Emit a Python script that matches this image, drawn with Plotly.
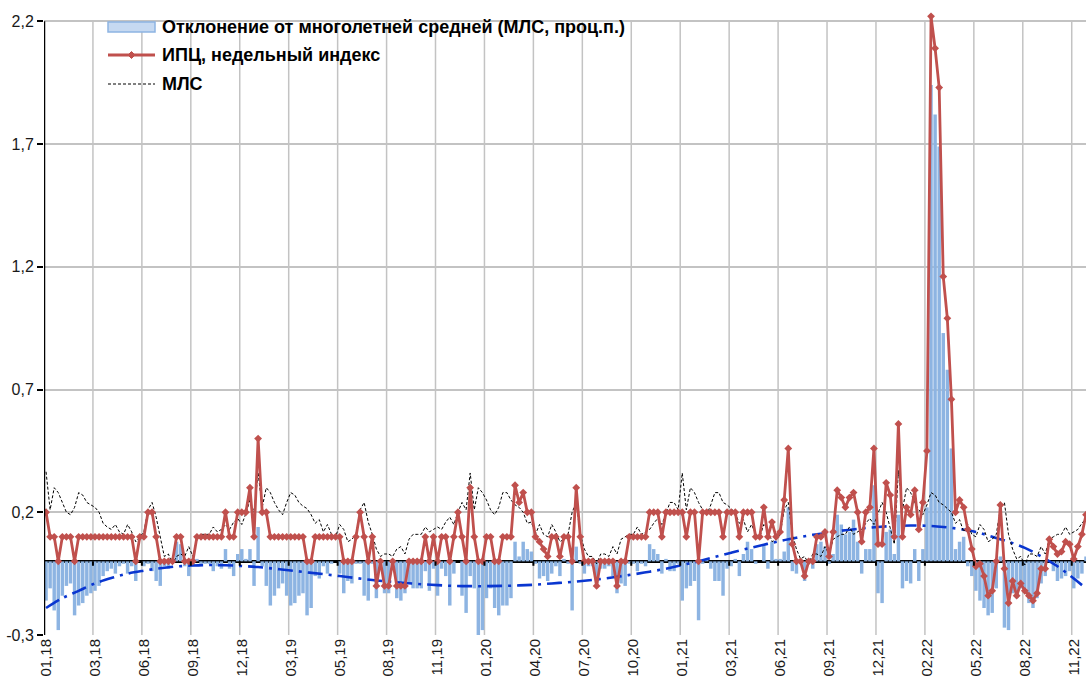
import plotly.graph_objects as go

# ---------------- data ----------------
tick_labels = ["01,18", "03,18", "06,18", "09,18", "12,18", "03,19", "05,19", "08,19",
               "11,19", "01,20", "04,20", "07,20", "10,20", "01,21", "03,21", "06,21",
               "09,21", "12,21", "02,22", "05,22", "08,22", "11,22"]
label_step = 12  # weeks between axis labels

# weekly CPI, %
cpi = [
    0.2, 0.1, 0.1, 0.0, 0.1, 0.1, 0.1, 0.0, 0.1, 0.1,
    0.1, 0.1, 0.1, 0.1, 0.1, 0.1, 0.1, 0.1, 0.1, 0.1,
    0.1, 0.1, 0.0, 0.1, 0.1, 0.2, 0.2, 0.1, 0.0, 0.0,
    0.0, 0.0, 0.1, 0.1, 0.0, 0.0, 0.0, 0.1, 0.1, 0.1,
    0.1, 0.1, 0.1, 0.1, 0.2, 0.1, 0.1, 0.2, 0.2, 0.2,
    0.3, 0.1, 0.5, 0.2, 0.2, 0.1, 0.1, 0.1, 0.1, 0.1,
    0.1, 0.1, 0.1, 0.1, 0.0, 0.0, 0.1, 0.1, 0.1, 0.1,
    0.1, 0.1, 0.1, 0.0, 0.0, 0.0, 0.1, 0.2, 0.1, 0.0,
    0.1, -0.1, 0.0, -0.1, -0.1, 0.0, -0.1, -0.1, -0.1, 0.0,
    0.0, 0.0, 0.0, 0.1, 0.0, 0.1, 0.0, 0.1, 0.1, 0.0,
    0.1, 0.2, 0.1, 0.0, 0.3, 0.1, 0.0, 0.0, 0.1, 0.1,
    0.0, 0.0, 0.1, 0.1, 0.1, 0.31, 0.24, 0.28, 0.2, 0.2,
    0.1, 0.08, 0.05, 0.02, 0.1, 0.1, 0.02, 0.1, 0.1, 0.0,
    0.3, 0.1, 0.0, 0.0, 0.0, -0.1, 0.0, 0.0, 0.0, 0.0,
    -0.1, 0.0, 0.0, 0.1, 0.1, 0.1, 0.1, 0.1, 0.2, 0.2,
    0.2, 0.1, 0.2, 0.2, 0.2, 0.2, 0.2, 0.1, 0.2, 0.2,
    0.0, 0.2, 0.2, 0.2, 0.2, 0.2, 0.1, 0.2, 0.2, 0.2,
    0.1, 0.2, 0.2, 0.2, 0.1, 0.1, 0.22, 0.1, 0.16, 0.1,
    0.12, 0.25, 0.46, 0.07, 0.0, 0.0, -0.06, 0.0, 0.0, 0.1,
    0.1, 0.12, 0.02, 0.12, 0.29, 0.26, 0.22, 0.26, 0.28, 0.2,
    0.08, 0.2, 0.22, 0.46, 0.07, 0.07, 0.32, 0.27, 0.1, 0.56,
    0.1, 0.22, 0.19, 0.29, 0.13, 0.24, 0.45, 2.22, 2.09, 1.93,
    1.16, 0.99, 0.66, 0.2, 0.25, 0.22, 0.13, 0.05, -0.02, -0.01,
    -0.06, -0.14, -0.12, 0.0, 0.23, -0.03, -0.17, -0.08, -0.14, -0.09,
    -0.12, -0.14, -0.16, -0.13, -0.03, -0.03, 0.09, 0.06, 0.03, 0.04,
    0.08, 0.07, 0.01, 0.06, 0.11, 0.19,
]

# long-term average (МЛС), %
mls = [
    0.365, 0.21, 0.30, 0.28, 0.24, 0.20, 0.19, 0.22, 0.28, 0.27,
    0.24, 0.23, 0.22, 0.20, 0.155, 0.14, 0.13, 0.15, 0.12, 0.11,
    0.15, 0.12, 0.08, 0.10, 0.12, 0.21, 0.24, 0.18, 0.10, 0.02,
    0.03, -0.01, 0.02, 0.03, 0.02, 0.06, 0.02, 0.09, 0.11, 0.11,
    0.11, 0.14, 0.12, 0.13, 0.15, 0.13, 0.16, 0.175, 0.15, 0.195,
    0.25, 0.20, 0.36, 0.22, 0.30, 0.28, 0.24, 0.21, 0.19, 0.24,
    0.28, 0.27, 0.24, 0.225, 0.215, 0.19, 0.155, 0.17, 0.12, 0.15,
    0.11, 0.10, 0.15, 0.13, 0.08, 0.09, 0.11, 0.21, 0.24, 0.16,
    0.11, 0.05, 0.02, 0.03, 0.03, 0.02, 0.05, 0.06, 0.03, 0.09,
    0.11, 0.11, 0.11, 0.14, 0.12, 0.13, 0.14, 0.13, 0.16, 0.18,
    0.15, 0.20, 0.24, 0.21, 0.36, 0.21, 0.30, 0.28, 0.25, 0.21,
    0.19, 0.22, 0.28, 0.28, 0.25, 0.23, 0.22, 0.20, 0.155, 0.16,
    0.11, 0.15, 0.11, 0.10, 0.15, 0.12, 0.08, 0.09, 0.11, 0.20,
    0.24, 0.11, 0.05, 0.02, 0.02, -0.01, 0.03, 0.03, 0.02, 0.06,
    0.03, 0.09, 0.10, 0.11, 0.11, 0.14, 0.11, 0.12, 0.13, 0.155,
    0.175, 0.15, 0.195, 0.24, 0.24, 0.21, 0.36, 0.21, 0.30, 0.28,
    0.24, 0.21, 0.19, 0.23, 0.28, 0.28, 0.24, 0.23, 0.215, 0.195,
    0.155, 0.17, 0.12, 0.15, 0.11, 0.10, 0.15, 0.13, 0.08, 0.09,
    0.11, 0.21, 0.24, 0.11, 0.05, 0.01, 0.02, -0.01, 0.03, 0.03,
    0.02, 0.06, 0.03, 0.09, 0.10, 0.11, 0.11, 0.14, 0.11, 0.12,
    0.13, 0.155, 0.175, 0.15, 0.195, 0.24, 0.20, 0.14, 0.07, 0.37,
    0.21, 0.30, 0.28, 0.24, 0.21, 0.19, 0.23, 0.28, 0.27, 0.24,
    0.23, 0.215, 0.20, 0.155, 0.17, 0.12, 0.15, 0.11, 0.10, 0.15,
    0.13, 0.08, 0.09, 0.11, 0.215, 0.24, 0.11, 0.05, 0.01, 0.02,
    -0.015, 0.03, 0.03, 0.02, 0.06, 0.03, 0.09, 0.10, 0.11, 0.11,
    0.14, 0.11, 0.12, 0.13, 0.155, 0.175,
]

# deviation from the long-term average, p.p. (bars)
deviation = [
    -0.16, -0.11, -0.20, -0.28, -0.14, -0.10, -0.09, -0.22, -0.18, -0.17,
    -0.14, -0.13, -0.12, -0.10, -0.06, -0.04, -0.03, -0.05, -0.02, -0.01,
    -0.05, -0.02, -0.08, 0.0, -0.02, -0.01, -0.04, -0.08, -0.10, -0.02,
    -0.03, 0.01, 0.08, 0.07, -0.02, -0.06, -0.02, 0.01, -0.01, -0.01,
    -0.01, -0.04, -0.02, -0.03, 0.05, -0.03, -0.06, 0.03, 0.05, 0.01,
    0.05, -0.10, 0.14, -0.02, -0.10, -0.18, -0.14, -0.11, -0.09, -0.14,
    -0.18, -0.17, -0.14, -0.13, -0.22, -0.19, -0.06, -0.07, -0.02, -0.05,
    -0.01, 0.0, -0.05, -0.13, -0.08, -0.09, -0.01, -0.01, -0.14, -0.16,
    -0.01, -0.15, -0.02, -0.13, -0.13, -0.02, -0.15, -0.16, -0.13, -0.09,
    -0.11, -0.11, -0.11, -0.04, -0.12, -0.03, -0.14, -0.03, -0.06, -0.18,
    -0.05, 0.0, -0.14, -0.21, -0.06, -0.11, -0.30, -0.28, -0.15, -0.11,
    -0.19, -0.22, -0.18, -0.18, -0.15, 0.08, 0.02, 0.08, 0.05, 0.04,
    -0.01, -0.07, -0.06, -0.08, -0.05, -0.02, -0.06, 0.01, -0.01, -0.20,
    0.06, -0.01, -0.05, -0.02, -0.02, -0.09, -0.03, -0.03, -0.02, -0.06,
    -0.13, -0.09, -0.10, -0.01, -0.01, -0.04, -0.01, -0.02, 0.07, 0.05,
    0.03, -0.05, 0.01, -0.04, -0.04, -0.01, -0.16, -0.11, -0.10, -0.08,
    -0.24, -0.01, 0.01, -0.03, -0.08, -0.08, -0.14, -0.03, -0.02, 0.01,
    -0.06, 0.03, 0.08, 0.05, -0.01, 0.0, 0.07, -0.03, 0.08, 0.01,
    0.01, 0.04, 0.22, -0.04, -0.05, -0.01, -0.08, 0.01, -0.03, 0.07,
    0.08, 0.06, -0.01, 0.03, 0.19, 0.15, 0.11, 0.12, 0.17, 0.08,
    -0.05, 0.05, 0.05, 0.31, -0.13, -0.17, 0.12, 0.13, 0.03, 0.19,
    -0.11, -0.08, -0.09, 0.05, -0.08, 0.05, 0.22, 1.94, 1.82, 1.69,
    0.93, 0.78, 0.46, 0.05, 0.08, 0.10, -0.02, -0.06, -0.12, -0.16,
    -0.19, -0.22, -0.21, -0.11, 0.02, -0.27, -0.28, -0.13, -0.15, -0.11,
    -0.11, -0.17, -0.19, -0.15, -0.09, -0.06, 0.0, -0.04, -0.08, -0.07,
    -0.06, -0.04, -0.11, -0.07, -0.05, 0.02,
]

# trend of the deviation (dash-dot blue curve), read every 4 weeks
trend_weeks = [0, 4, 8, 12, 16, 20, 24, 28, 32, 36, 40, 44, 48, 52, 56, 60, 64, 68, 72, 76,
               80, 84, 88, 92, 96, 100, 104, 108, 112, 116, 120, 124, 128, 132, 136, 140,
               144, 148, 152, 156, 160, 164, 168, 172, 176, 180, 184, 188, 192, 196, 200,
               204, 208, 212, 216, 220, 224, 228, 232, 236, 240, 244, 248, 252, 255]
trend_vals = [-0.19, -0.15, -0.12, -0.09, -0.068, -0.05, -0.038, -0.028, -0.021, -0.017,
              -0.015, -0.016, -0.019, -0.023, -0.03, -0.037, -0.045, -0.052, -0.06, -0.068,
              -0.076, -0.082, -0.088, -0.093, -0.097, -0.1, -0.101, -0.101, -0.1, -0.098,
              -0.095, -0.09, -0.085, -0.079, -0.072, -0.063, -0.053, -0.042, -0.03, -0.015,
              0.0, 0.018, 0.035, 0.052, 0.068, 0.083, 0.096, 0.108, 0.118, 0.127,
              0.134, 0.14, 0.144, 0.146, 0.145, 0.14, 0.132, 0.12, 0.1, 0.08,
              0.055, 0.02, -0.02, -0.07, -0.11]

y_tick_vals = [-0.3, 0.2, 0.7, 1.2, 1.7, 2.2]
y_tick_text = ["-0,3", "0,2", "0,7", "1,2", "1,7", "2,2"]

legend_names = ["Отклонение от многолетней средней (МЛС, проц.п.)",
                "ИПЦ, недельный индекс",
                "МЛС"]

# ---------------- styling ----------------
RED = "#C0504D"
BAR = "#8DB4E2"
TREND = "#0A36D0"
GRID = "#C3C3C3"
FONT = "Liberation Sans, Arial, sans-serif"

W, H = 1086, 679
ML, MR, MT, MB = 44, 0, 9, 44
weeks = list(range(len(cpi)))
x_lo, x_hi = -0.5, 255.0
y_lo, y_hi = -0.3, 2.25


def px(xpix):
    return (xpix - ML) / (W - ML - MR)


def py(ypix):
    return (H - MB - ypix) / (H - MB - MT)


fig = go.Figure()

fig.add_trace(go.Bar(x=weeks, y=deviation, name=legend_names[0],
                     marker=dict(color=BAR, line=dict(width=0)),
                     hoverinfo="skip"))
fig.add_trace(go.Scatter(x=trend_weeks, y=trend_vals, mode="lines", name="trend",
                         line=dict(color=TREND, width=2.6, dash="15px,6px,3px,6px",
                                   shape="spline", smoothing=1.0),
                         hoverinfo="skip"))
fig.add_trace(go.Scatter(x=weeks, y=mls, mode="lines", name=legend_names[2],
                         line=dict(color="black", width=1, dash="3px,2px")))
fig.add_trace(go.Scatter(x=weeks, y=cpi, mode="lines+markers", name=legend_names[1],
                         line=dict(color=RED, width=2.8),
                         marker=dict(symbol="diamond", size=6, color=RED)))

shapes = []
# vertical gridlines between categories at every label
for k in range(1, len(tick_labels)):
    xv = label_step * k - 0.5
    shapes.append(dict(type="line", xref="x", yref="y", x0=xv, x1=xv, y0=y_lo, y1=2.2,
                       line=dict(color=GRID, width=1.5), layer="below"))
    # small tick marks on the zero axis
    shapes.append(dict(type="line", xref="x", yref="y", x0=xv, x1=xv, y0=0, y1=-0.018,
                       line=dict(color="black", width=2), layer="above"))
# vertical value axis line
shapes.append(dict(type="line", xref="x", yref="y", x0=x_lo, x1=x_lo, y0=y_lo, y1=2.2,
                   line=dict(color="black", width=2.5), layer="above"))

# manual legend
lx0, lx1, ltx = 108, 155, 160
rows = [27, 55, 84]
shapes.append(dict(type="rect", xref="paper", yref="paper",
                   x0=px(lx0), x1=px(lx1), y0=py(rows[0] + 5), y1=py(rows[0] - 5),
                   fillcolor="#C6D9F1", line=dict(color=BAR, width=1.5), layer="above"))
shapes.append(dict(type="line", xref="paper", yref="paper",
                   x0=px(lx0), x1=px(lx1), y0=py(rows[1]), y1=py(rows[1]),
                   line=dict(color=RED, width=2.8), layer="above"))
cx, cy, d = (lx0 + lx1) / 2, rows[1], 3.5
shapes.append(dict(type="path", xref="paper", yref="paper",
                   path=f"M{px(cx - d)},{py(cy)} L{px(cx)},{py(cy - d)} L{px(cx + d)},{py(cy)} "
                        f"L{px(cx)},{py(cy + d)} Z",
                   fillcolor=RED, line=dict(color=RED, width=1), layer="above"))
shapes.append(dict(type="line", xref="paper", yref="paper",
                   x0=px(lx0), x1=px(lx1), y0=py(rows[2]), y1=py(rows[2]),
                   line=dict(color="black", width=1, dash="3px,2px"), layer="above"))

annotations = []
for name, ry in zip(legend_names, rows):
    annotations.append(dict(xref="paper", yref="paper", x=px(ltx), y=py(ry),
                            xanchor="left", yanchor="middle", showarrow=False,
                            text=f"<b>{name}</b>",
                            font=dict(family=FONT, size=18, color="black")))

fig.update_layout(
    width=W, height=H,
    margin=dict(l=ML, r=MR, t=MT, b=MB, pad=0),
    paper_bgcolor="white", plot_bgcolor="white",
    showlegend=False, bargap=0.15,
    font=dict(family=FONT, size=16, color="#1a1a1a"),
    shapes=shapes, annotations=annotations,
)
fig.update_xaxes(range=[x_lo, x_hi], tickmode="array",
                 tickvals=[label_step * k for k in range(len(tick_labels))],
                 ticktext=tick_labels, tickangle=-90, ticks="", showgrid=False,
                 zeroline=False, showline=False, tickfont=dict(size=15))
fig.update_yaxes(range=[y_lo, y_hi], tickmode="array", tickvals=y_tick_vals,
                 ticktext=y_tick_text, showgrid=True, gridcolor=GRID, gridwidth=1.5,
                 zeroline=True, zerolinecolor="black", zerolinewidth=2.5,
                 ticks="outside", ticklen=6, tickwidth=2, tickcolor="black",
                 showline=False, tickfont=dict(size=16))

fig.write_html("out.html", config={"displayModeBar": False},
               post_script="document.body.style.margin='0';document.body.style.padding='0';")
